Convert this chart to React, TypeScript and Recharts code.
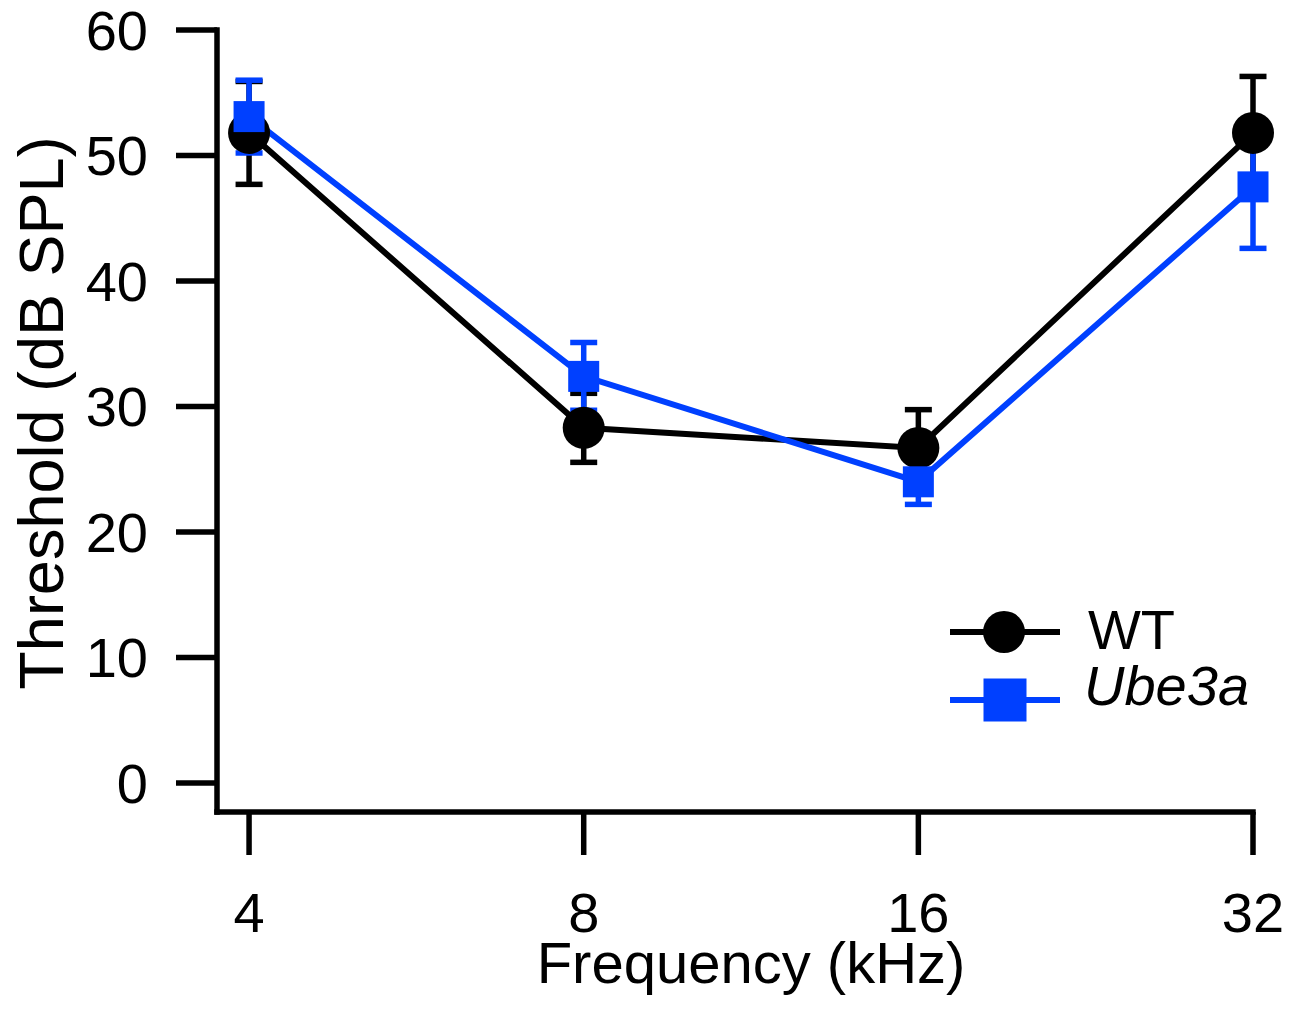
import React from 'react';
import { LineChart, Line, XAxis, YAxis, ErrorBar } from 'recharts';

const frequencies = [4, 8, 16, 32];
const wtMean = [51.8, 28.3, 26.7, 51.8];
const wtErr = [4.1, 2.75, 3.05, 4.5];
const ubeMean = [53.1, 32.4, 24.0, 47.5];
const ubeErr = [2.9, 2.7, 1.8, 4.9];
const yTicks = [0, 10, 20, 30, 40, 50, 60];
const seriesNames = ['WT', 'Ube3a'];

const BLUE = '#0040FF';
const BLACK = '#000000';
const FONT = '"Liberation Sans", Arial, Helvetica, sans-serif';

const data = frequencies.map((f, i) => ({
  freq: f,
  wt: wtMean[i],
  wtErr: wtErr[i],
  ube: ubeMean[i],
  ubeErr: ubeErr[i],
}));

const SquareDot = (props: any) => {
  const { cx, cy } = props;
  if (cx == null || cy == null) return null;
  const s = 31;
  return <rect x={cx - s / 2} y={cy - s / 2} width={s} height={s} fill={BLUE} />;
};

const YTitle = (props: any) => {
  const vb = props.viewBox || { x: 0, y: 30, width: 217, height: 782 };
  const x = vb.x + 63;
  const y = vb.y + vb.height / 2 - 8;
  return (
    <text
      x={0}
      y={0}
      transform={`translate(${x}, ${y}) rotate(-90)`}
      textAnchor="middle"
      fill={BLACK}
      fontSize={63}
      fontFamily={FONT}
    >
      Threshold (dB SPL)
    </text>
  );
};

const XTitle = (props: any) => {
  const vb = props.viewBox || { x: 217, y: 812, width: 1036, height: 202 };
  return (
    <text
      x={vb.x + vb.width / 2 + 16}
      y={vb.y + vb.height - 31}
      textAnchor="middle"
      fill={BLACK}
      fontSize={58}
      fontFamily={FONT}
    >
      Frequency (kHz)
    </text>
  );
};

const LegendBox = () => (
  <svg
    width={340}
    height={140}
    style={{ position: 'absolute', left: 930, top: 590, display: 'block', overflow: 'visible' }}
  >
    <line x1={20} y1={42} x2={130} y2={42} stroke={BLACK} strokeWidth={6} />
    <circle cx={74} cy={42} r={21} fill={BLACK} />
    <text x={158} y={59} fontSize={56} fontFamily={FONT} fill={BLACK}>
      {seriesNames[0]}
    </text>
    <line x1={20} y1={110} x2={130} y2={110} stroke={BLUE} strokeWidth={6} />
    <rect x={53.5} y={88.5} width={43} height={43} fill={BLUE} />
    <text x={154} y={115} fontSize={56} fontFamily={FONT} fill={BLACK} fontStyle="italic">
      {seriesNames[1]}
    </text>
  </svg>
);

export default function App() {
  return (
    <div style={{ position: 'absolute', left: 0, top: 0, width: 1293, height: 1014, background: '#fff' }}>
      <LineChart
        width={1293}
        height={1014}
        data={data}
        margin={{ top: 30, right: 40, left: 0, bottom: 0 }}
      >
        <XAxis
          dataKey="freq"
          type="number"
          scale="log"
          domain={[3.743, 32]}
          ticks={frequencies}
          interval={0}
          height={202}
          tickSize={43}
          tickMargin={37}
          axisLine={{ stroke: BLACK, strokeWidth: 5.5, strokeLinecap: 'square' }}
          tickLine={{ stroke: BLACK, strokeWidth: 5.5 }}
          tick={{ fill: BLACK, fontSize: 56, fontFamily: FONT }}
          label={{ content: XTitle }}
        />
        <YAxis
          type="number"
          domain={[-2.31, 60]}
          ticks={yTicks}
          interval={0}
          width={217}
          tickSize={41}
          tickMargin={28}
          axisLine={{ stroke: BLACK, strokeWidth: 5.5, strokeLinecap: 'square' }}
          tickLine={{ stroke: BLACK, strokeWidth: 5.5 }}
          tick={{ fill: BLACK, fontSize: 56, fontFamily: FONT }}
          label={{ content: YTitle }}
        />
        <Line
          dataKey="wt"
          name={seriesNames[0]}
          stroke={BLACK}
          strokeWidth={6}
          dot={{ r: 21, fill: BLACK, stroke: BLACK, strokeWidth: 0 }}
          activeDot={false}
          isAnimationActive={false}
        >
          <ErrorBar dataKey="wtErr" direction="y" width={13.5} stroke={BLACK} strokeWidth={5.5} isAnimationActive={false} />
        </Line>
        <Line
          dataKey="ube"
          name={seriesNames[1]}
          stroke={BLUE}
          strokeWidth={6}
          dot={(p: any) => <SquareDot key={`sq-${p.index}`} {...p} />}
          activeDot={false}
          isAnimationActive={false}
        >
          <ErrorBar dataKey="ubeErr" direction="y" width={13.5} stroke={BLUE} strokeWidth={5.5} isAnimationActive={false} />
        </Line>
      </LineChart>
      <LegendBox />
    </div>
  );
}
